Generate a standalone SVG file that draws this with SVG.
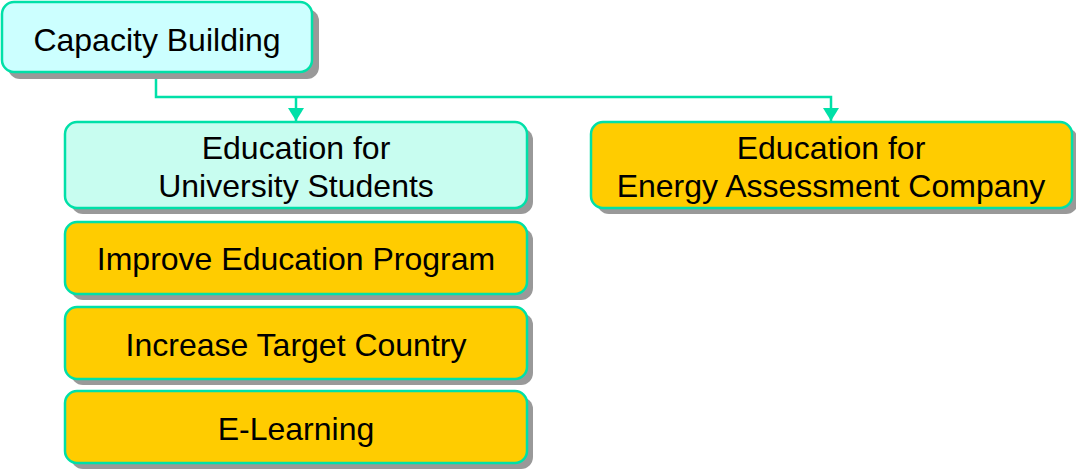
<svg xmlns="http://www.w3.org/2000/svg" width="1076" height="469" viewBox="0 0 1076 469">
<style>
.box{stroke:#00e0a8;stroke-width:2.5}
.sh{fill:#999999}
.cyan{fill:#ccffff}
.mint{fill:#c8fdf0}
.gold{fill:#ffcc00}
text{font-family:"Liberation Sans",Arial,sans-serif;font-size:32px;fill:#000;text-anchor:middle}
.conn{fill:none;stroke:#00e0a8;stroke-width:2.5}
</style>
<defs>
<marker id="arr" markerWidth="16" markerHeight="18" refX="13" refY="8" orient="auto" markerUnits="userSpaceOnUse">
<path d="M0,0 L13,8 L0,16 Z" fill="#00e0a8"/>
</marker>
</defs>
<rect width="1076" height="469" fill="#ffffff"/>
<g id="connectors">
<path class="conn" d="M156,72 V97 H831 V121" marker-end="url(#arr)"/>
<path class="conn" d="M296,97 V121" marker-end="url(#arr)"/>
</g>
<g id="capacity">
<rect class="sh" x="8" y="9" width="311" height="70" rx="12"/>
<rect class="box cyan" x="2" y="2" width="310" height="70" rx="12"/>
<text x="157" y="51">Capacity Building</text>
</g>
<g id="edu-univ">
<rect class="sh" x="71" y="128" width="462" height="86" rx="12"/>
<rect class="box mint" x="65" y="122" width="462" height="86" rx="12"/>
<text x="296" y="159">Education for</text>
<text x="296" y="197">University Students</text>
</g>
<g id="edu-energy">
<rect class="sh" x="597" y="128" width="481" height="86" rx="12"/>
<rect class="box gold" x="591" y="122" width="481" height="86" rx="12"/>
<text x="831" y="159">Education for</text>
<text x="831" y="197">Energy Assessment Company</text>
</g>
<g id="improve">
<rect class="sh" x="71" y="228" width="462" height="72" rx="12"/>
<rect class="box gold" x="65" y="222" width="462" height="72" rx="12"/>
<text x="296" y="270">Improve Education Program</text>
</g>
<g id="increase">
<rect class="sh" x="71" y="313" width="462" height="72" rx="12"/>
<rect class="box gold" x="65" y="307" width="462" height="72" rx="12"/>
<text x="296" y="356">Increase Target Country</text>
</g>
<g id="elearning">
<rect class="sh" x="71" y="397" width="462" height="72" rx="12"/>
<rect class="box gold" x="65" y="391" width="462" height="72" rx="12"/>
<text x="296" y="440">E-Learning</text>
</g>
</svg>
